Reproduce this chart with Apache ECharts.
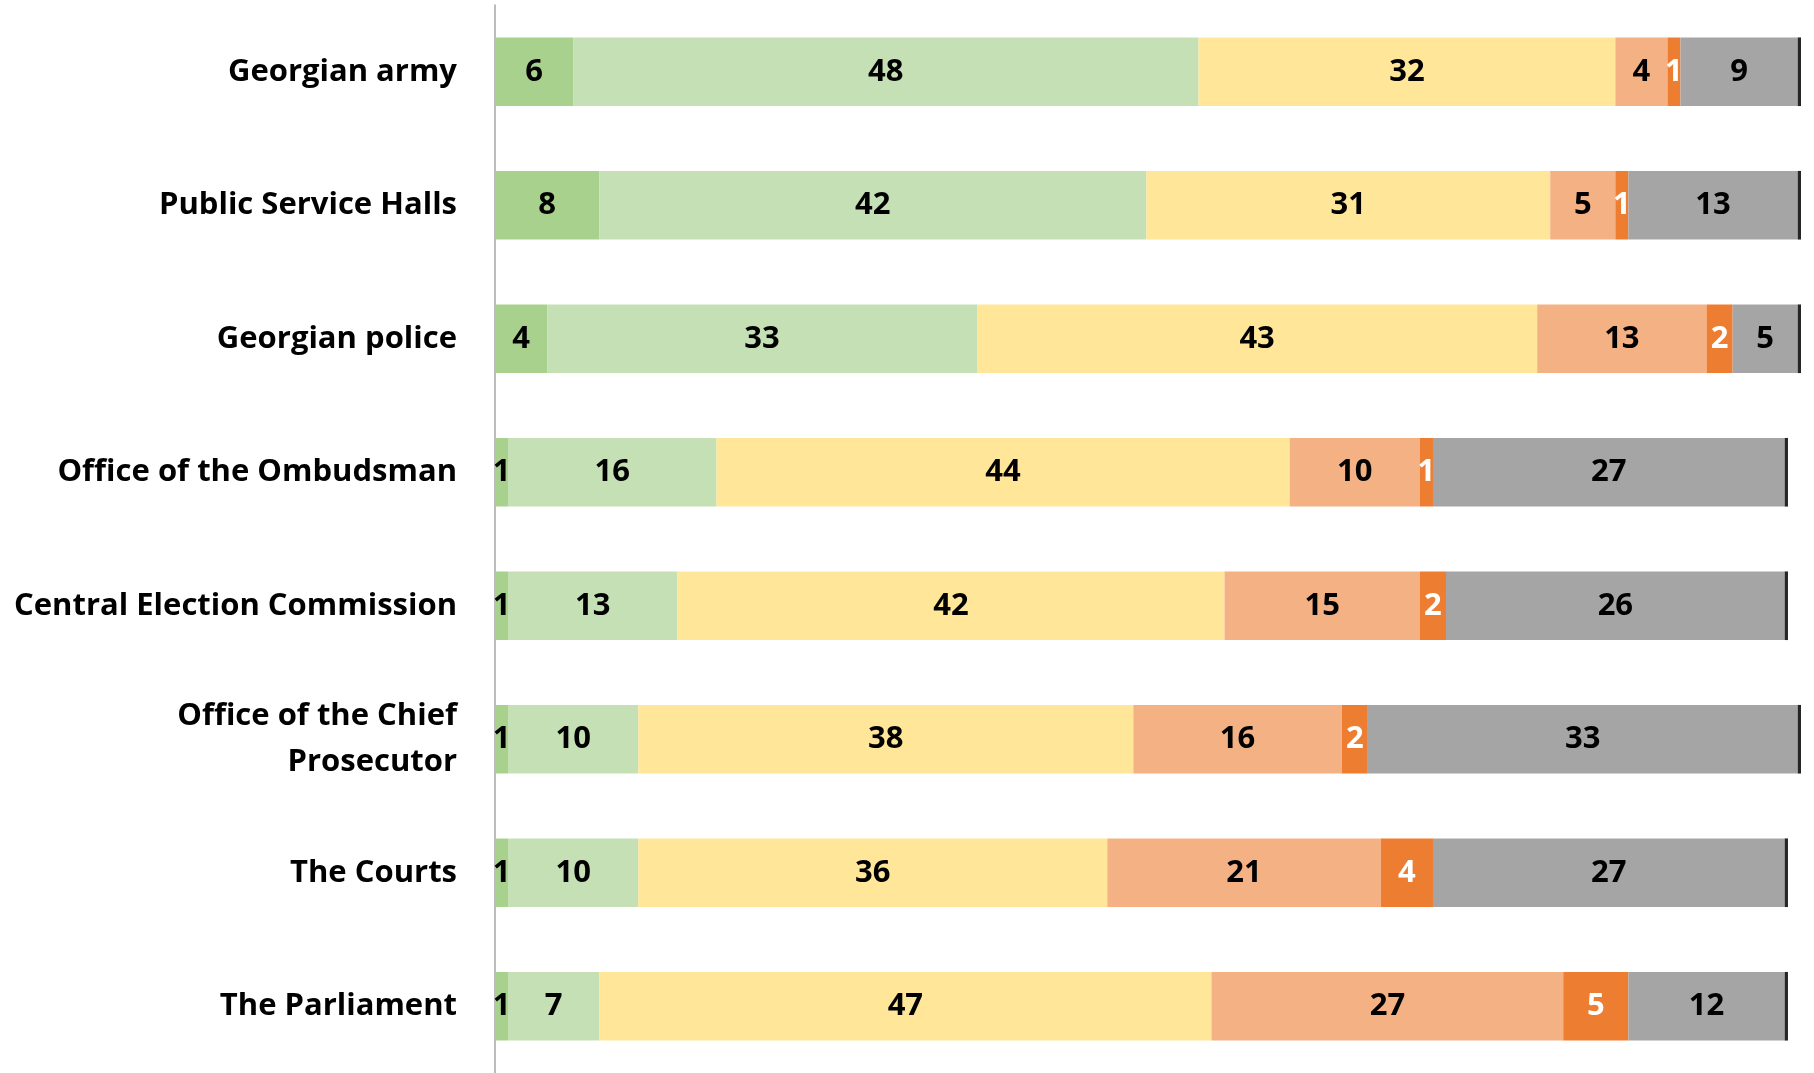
<!DOCTYPE html>
<html>
<head>
<meta charset="utf-8">
<script src="https://cdn.jsdelivr.net/npm/echarts@6/dist/echarts.min.js"></script>
<style>
  html, body { margin: 0; padding: 0; background: #ffffff; }
  #chart { width: 1814px; height: 1073px; }
</style>
</head>
<body>
<div id="chart"></div>
<script>
// Institutions, top to bottom
const categories = [
  'Georgian army',
  'Public Service Halls',
  'Georgian police',
  'Office of the Ombudsman',
  'Central Election Commission',
  'Office of the Chief\nProsecutor',
  'The Courts',
  'The Parliament'
];

// Shares (%) per answer group
const fullyTrust     = [6, 8, 4, 1, 1, 1, 1, 1];
const ratherTrust    = [48, 42, 33, 16, 13, 10, 10, 7];
const neutral        = [32, 31, 43, 44, 42, 38, 36, 47];
const ratherDistrust = [4, 5, 13, 10, 15, 16, 21, 27];
const fullyDistrust  = [1, 1, 2, 1, 2, 2, 4, 5];
const dontKnow       = [9, 13, 5, 27, 26, 33, 27, 12];
const refused        = [0.25, 0.25, 0.25, 0.25, 0.25, 0.25, 0.25, 0.25];

const FONT = '"Open Sans", Lato, sans-serif';

function seg(name, data, color, labelColor, showLabel) {
  return {
    name: name,
    type: 'bar',
    stack: 'total',
    data: data,
    barCategoryGap: '48.6%',
    itemStyle: { color: color },
    label: {
      show: showLabel,
      position: 'inside',
      color: labelColor,
      fontFamily: FONT,
      fontWeight: 'bold',
      fontSize: 31,
      padding: [4, 0, 0, 0]
    },
    emphasis: { disabled: true }
  };
}

const chart = echarts.init(document.getElementById('chart'), null, { renderer: 'canvas' });
chart.setOption({
  animation: false,
  backgroundColor: '#ffffff',
  grid: { left: 495, right: 13, top: 5, bottom: -3, containLabel: false },
  xAxis: {
    type: 'value',
    min: 0,
    max: 100.25,
    show: false
  },
  yAxis: {
    type: 'category',
    inverse: true,
    data: categories,
    axisLine: { show: true, lineStyle: { color: '#a6a6a6', width: 1.5 } },
    axisTick: { show: false },
    axisLabel: {
      margin: 38,
      color: '#000000',
      fontFamily: FONT,
      fontWeight: 'bold',
      fontSize: 31,
      lineHeight: 46,
      padding: [6, 0, 0, 0],
      align: 'right'
    }
  },
  series: [
    seg('Fully trust', fullyTrust, '#a9d18e', '#000000', true),
    seg('Rather trust', ratherTrust, '#c5e0b4', '#000000', true),
    seg('Neither trust nor distrust', neutral, '#ffe699', '#000000', true),
    seg('Rather distrust', ratherDistrust, '#f4b183', '#000000', true),
    seg('Fully distrust', fullyDistrust, '#ed7d31', '#ffffff', true),
    seg("Don't know", dontKnow, '#a5a5a5', '#000000', true),
    seg('Refuse to answer', refused, '#262626', '#000000', false)
  ]
});
</script>
</body>
</html>
